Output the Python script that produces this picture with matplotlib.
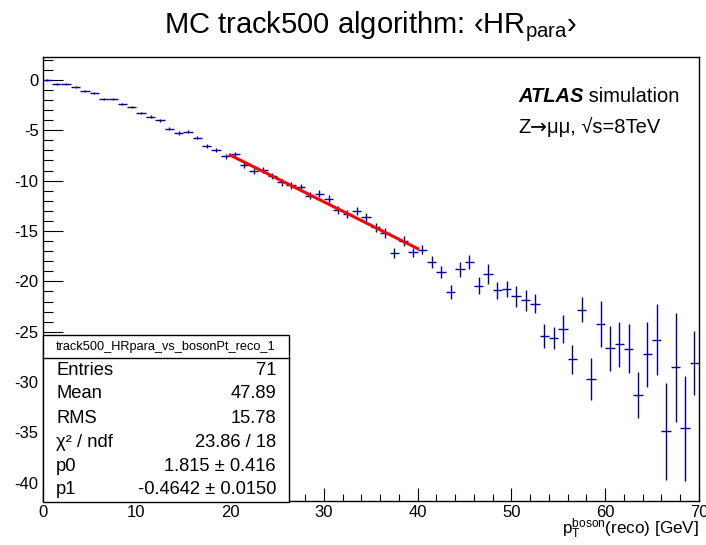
import matplotlib
matplotlib.use("Agg")
import matplotlib.pyplot as plt
from matplotlib.patches import Rectangle
from matplotlib.lines import Line2D
from matplotlib.ticker import MultipleLocator
import numpy as np

plt.rcParams['font.family'] = ['Liberation Sans', 'DejaVu Sans']
plt.rcParams['mathtext.fontset'] = 'custom'
plt.rcParams['mathtext.rm'] = 'Liberation Sans'
plt.rcParams['mathtext.it'] = 'Liberation Sans:italic'
plt.rcParams['mathtext.bf'] = 'Liberation Sans:bold'
plt.rcParams['axes.unicode_minus'] = False

# <HR_para> per 1 GeV bin of boson pT
bin_centers = np.arange(0.5, 70.0, 1.0)
hr_para = [
    0.0, -0.4, -0.4, -0.7, -1.06, -1.3, -1.89, -1.92, -2.42, -2.7,
    -3.28, -3.64, -4.0, -4.83, -5.26, -5.14, -5.72, -6.58, -7.0, -7.6,
    -7.38, -8.43, -9.05, -8.97, -9.57, -10.18, -10.46, -10.66, -11.52, -11.32,
    -11.82, -12.9, -13.27, -13.04, -13.6, -14.63, -15.2, -17.2, -16.02, -17.12,
    -16.85, -18.07, -19.1, -21.08, -18.8, -18.04, -20.42, -19.26, -20.88, -20.78,
    -21.5, -21.87, -22.2, -25.42, -25.58, -24.73, -27.74, -22.8, -29.7, -24.2,
    -26.65, -26.25, -26.68, -31.25, -27.25, -25.79, -34.9, -28.53, -34.6, -28.1,
]
hr_para_err = [
    0.1, 0.1, 0.1, 0.1, 0.1, 0.1, 0.12, 0.12, 0.12, 0.13,
    0.14, 0.15, 0.15, 0.16, 0.17, 0.18, 0.19, 0.2, 0.2, 0.22,
    0.27, 0.28, 0.3, 0.3, 0.3, 0.32, 0.33, 0.34, 0.35, 0.35,
    0.36, 0.38, 0.4, 0.42, 0.43, 0.45, 0.46, 0.47, 0.5, 0.48,
    0.45, 0.6, 0.6, 0.7, 0.76, 0.7, 0.85, 1.0, 0.85, 0.8,
    1.05, 1.05, 0.9, 1.2, 1.1, 1.4, 1.45, 1.2, 2.1, 2.3,
    2.2, 2.2, 2.4, 2.3, 3.2, 3.5, 4.8, 5.4, 5.2, 3.2,
]

# linear fit between 20 and 40 GeV
fit_range = [20.0, 40.0]
p0, p0_err = 1.815, 0.416
p1, p1_err = -0.4642, 0.0150
chi2, ndf = 23.86, 18
entries, mean, rms = 71, 47.89, 15.78

W, H = 706, 545
fig = plt.figure(figsize=(W / 100, H / 100), dpi=100)
ax = fig.add_axes([42.7 / W, 1 - 501 / H, (699 - 42.7) / W, (501 - 56.7) / H])

ax.errorbar(bin_centers, hr_para, xerr=0.5, yerr=hr_para_err, fmt='none',
            ecolor='#000099', elinewidth=1.0, capsize=0, zorder=3)

fx = np.array(fit_range)
ax.plot(fx, p0 + p1 * fx, color='#ff0000', lw=2.2, zorder=4)

ax.set_xlim(0, 70)
ax.set_ylim(-41.8, 2.3)
ax.xaxis.set_major_locator(MultipleLocator(10))
ax.xaxis.set_minor_locator(MultipleLocator(2))
ax.yaxis.set_major_locator(MultipleLocator(5))
ax.yaxis.set_minor_locator(MultipleLocator(1))
ax.tick_params(axis='both', which='both', direction='in', top=False, right=False,
               labelsize=12, width=0.8)
ax.tick_params(axis='x', which='major', length=9.4, pad=3)
ax.tick_params(axis='x', which='minor', length=4.7)
ax.tick_params(axis='y', which='major', length=14.4, pad=3)
ax.tick_params(axis='y', which='minor', length=7.2)
for s in ax.spines.values():
    s.set_linewidth(1.0)

def px(x, y):
    return x / W, 1 - y / H

fig.text(*px(371, 27), r"MC track500 algorithm: ‹HR$_{\rm para}$›",
         ha='center', va='center', fontsize=21)
fig.text(*px(699, 529), r"p$_{\rm T}^{\rm boson}$(reco) [GeV]",
         ha='right', va='center', fontsize=12.3)

# ATLAS label, pieces chained left to right
fig.canvas.draw()

def chain(x0, y, pieces):
    x = x0
    for s, kw in pieces:
        t = fig.text(x / W, 1 - y / H, s, ha='left', va='baseline', fontsize=14.5, **kw)
        x = t.get_window_extent(renderer=fig.canvas.get_renderer()).x1

chain(518, 102, [("ATLAS", dict(fontweight='bold', fontstyle='italic')),
                 (" simulation", {})])
chain(518, 133, [("Z", {}), ("→", dict(family=['DejaVu Sans'])),
                 ("μμ, √s=8TeV", {})])

# statistics box
box_l, box_t, box_r, box_b = 42.7, 334.7, 289, 501.5
fig.add_artist(Rectangle(px(box_l, box_b), (box_r - box_l) / W, (box_b - box_t) / H,
                         transform=fig.transFigure, facecolor='white',
                         edgecolor='black', lw=1.0, zorder=5))
fig.add_artist(Line2D([box_l / W, box_r / W], [1 - 358.3 / H] * 2,
                      transform=fig.transFigure, color='black', lw=1.0, zorder=6))
fig.text(*px((box_l + box_r) / 2, 346.7), "track500_HRpara_vs_bosonPt_reco_1",
         ha='center', va='center', fontsize=9.2, zorder=7)
rows = [
    ("Entries", f"{entries}"),
    ("Mean", f"{mean:.2f}"),
    ("RMS", f"{rms:.2f}"),
    ("χ² / ndf", f"{chi2:.2f} / {ndf}"),
    ("p0", f"{p0:.3f} ± {p0_err:.3f}"),
    ("p1", f"{p1:.4f} ± {p1_err:.4f}"),
]
row_y = [370.7, 393.5, 418.3, 442.7, 466.2, 489.5]
for (lab, val), yy in zip(rows, row_y):
    fig.text(*px(56, yy), lab, ha='left', va='center', fontsize=13.2, zorder=7)
    fig.text(*px(276, yy), val, ha='right', va='center', fontsize=13.2, zorder=7)

fig.savefig("out.png", dpi=100)
